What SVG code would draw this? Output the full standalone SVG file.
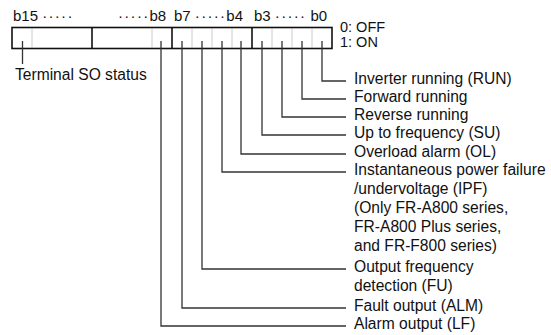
<svg xmlns="http://www.w3.org/2000/svg" width="551" height="335" viewBox="0 0 551 335">
<style>
text{font-family:"Liberation Sans",Arial,sans-serif;font-size:15.6px;fill:#111}
.h{font-size:15px}
.d{letter-spacing:1.3px}
.s{font-size:14.5px}
.box{fill:#fff;stroke:#111;stroke-width:1.6}
.div{stroke:#111;stroke-width:1.6}
.dot{stroke:#999;stroke-width:1;stroke-dasharray:1 1}
.c{fill:none;stroke:#333;stroke-width:1.3}
</style>
<rect width="551" height="335" fill="#fff"/>
<g id="header">
<text class="h" x="13" y="20.5">b15 <tspan class="d">·····</tspan></text>
<text class="h" x="118" y="20.5"><tspan class="d">·····</tspan>b8</text>
<text class="h" x="174" y="20.5">b7 <tspan class="d">·····</tspan>b4</text>
<text class="h" x="254" y="20.5">b3 <tspan class="d">·····</tspan> b0</text>
<text class="s" x="340" y="31.5">0: OFF</text>
<text class="s" x="340" y="46.5">1: ON</text>
</g>
<g id="register">
<rect class="box" x="12" y="27.5" width="320" height="21"/>
<line class="div" x1="92" y1="27.5" x2="92" y2="48.5"/>
<line class="div" x1="172" y1="27.5" x2="172" y2="48.5"/>
<line class="div" x1="252" y1="27.5" x2="252" y2="48.5"/>
<line class="dot" x1="32" y1="28.5" x2="32" y2="47.5"/>
<line class="dot" x1="152" y1="28.5" x2="152" y2="47.5"/>
<line class="dot" x1="192" y1="28.5" x2="192" y2="47.5"/>
<line class="dot" x1="212" y1="28.5" x2="212" y2="47.5"/>
<line class="dot" x1="232" y1="28.5" x2="232" y2="47.5"/>
<line class="dot" x1="272" y1="28.5" x2="272" y2="47.5"/>
<line class="dot" x1="292" y1="28.5" x2="292" y2="47.5"/>
<line class="dot" x1="312" y1="28.5" x2="312" y2="47.5"/>
</g>
<g id="connectors">
<path class="c" d="M22.5 41V64"/>
<path class="c" d="M322 41V81H346"/>
<path class="c" d="M302 41V99H346"/>
<path class="c" d="M282 41V117H346"/>
<path class="c" d="M262 41V135H346"/>
<path class="c" d="M241 41V154H346"/>
<path class="c" d="M222 41V172H346"/>
<path class="c" d="M202 41V269H346"/>
<path class="c" d="M182 41V308H346"/>
<path class="c" d="M161 41V326H346"/>
</g>
<g id="labels">
<text x="15" y="80">Terminal SO status</text>
<text x="354" y="84">Inverter running (RUN)</text>
<text x="354" y="102">Forward running</text>
<text x="354" y="120">Reverse running</text>
<text x="354" y="138">Up to frequency (SU)</text>
<text x="354" y="157">Overload alarm (OL)</text>
<text x="354" y="175">Instantaneous power failure</text>
<text x="354" y="194">/undervoltage (IPF)</text>
<text x="354" y="213">(Only FR-A800 series,</text>
<text x="354" y="232">FR-A800 Plus series,</text>
<text x="354" y="251">and FR-F800 series)</text>
<text x="354" y="272">Output frequency</text>
<text x="354" y="291">detection (FU)</text>
<text x="354" y="311">Fault output (ALM)</text>
<text x="354" y="329">Alarm output (LF)</text>
</g>
</svg>
